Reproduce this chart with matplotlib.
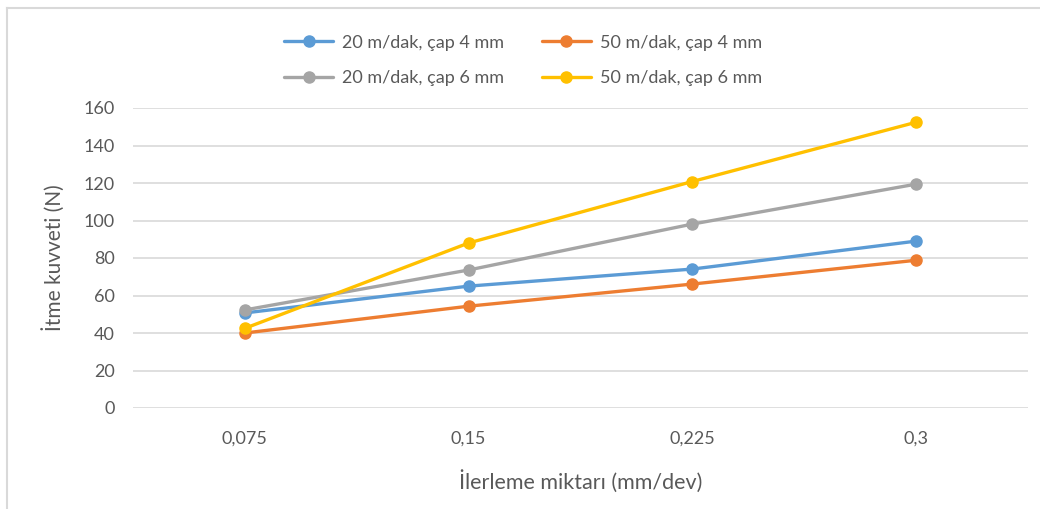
import matplotlib
matplotlib.use("Agg")
import matplotlib.pyplot as plt
from matplotlib.lines import Line2D

plt.rcParams['font.family'] = ['Lato', 'DejaVu Sans']

# feed rate categories (mm/dev) and thrust force values (N)
feeds = ["0,075", "0,15", "0,225", "0,3"]
v20_d4 = [50.7, 65.0, 74.1, 89.0]
v50_d4 = [40.0, 54.3, 66.1, 78.8]
v20_d6 = [52.3, 73.6, 98.1, 119.4]
v50_d6 = [42.5, 88.0, 120.8, 152.4]

labels = ["20 m/dak, çap 4 mm", "50 m/dak, çap 4 mm",
          "20 m/dak, çap 6 mm", "50 m/dak, çap 6 mm"]
colors = ["#5B9BD5", "#ED7D31", "#A5A5A5", "#FFC000"]
series = [v20_d4, v50_d4, v20_d6, v50_d6]

text_col = "#595959"
grid_col = "#d9d9d9"

fig = plt.figure(figsize=(10.4, 5.09), dpi=100)
ax = fig.add_axes([133/1040, 101/509, 895/1040, 300/509])

x = list(range(len(feeds)))
handles = []
for vals, col, lab in zip(series, colors, labels):
    h, = ax.plot(x, vals, color=col, linewidth=2.4, marker='o',
                 markersize=8, label=lab, solid_capstyle='round')
    handles.append(h)

ax.set_xlim(-0.5, len(feeds) - 0.5)
ax.set_ylim(0, 160)
ax.set_yticks(range(0, 161, 20))
ax.set_xticks(x)
ax.set_xticklabels(feeds)
ax.yaxis.grid(True, color=grid_col, linewidth=1.2)
ax.set_axisbelow(True)
for s in ax.spines.values():
    s.set_visible(False)
ax.tick_params(axis='both', length=0, labelsize=13, labelcolor=text_col)
ax.tick_params(axis='y', pad=13)
ax.tick_params(axis='x', pad=16)

ax.set_ylabel("İtme kuvveti (N)", fontsize=15, color=text_col, va='center')
ax.yaxis.set_label_coords(-80/895, 0.5)
ax.set_xlabel("İlerleme miktarı (mm/dev)", fontsize=15.5, color=text_col, va='center')
ax.xaxis.set_label_coords(0.5, -73/300)

# two-row legend on top: column 1 holds the 20 m/dak series
order = [0, 2, 1, 3]
fig.legend([handles[i] for i in order], [labels[i] for i in order],
           loc='center', bbox_to_anchor=(523/1040, 1 - 60.5/509), ncol=2,
           frameon=False, fontsize=13, labelcolor=text_col,
           handlelength=2.7, columnspacing=2.1, labelspacing=1.1,
           handletextpad=0.5)

# chart frame (top and left edges)
fig.add_artist(Line2D([6.5/1040, 6.5/1040], [0, 1 - 7.5/509],
                      transform=fig.transFigure, color=grid_col, linewidth=1.5))
fig.add_artist(Line2D([6.5/1040, 1], [1 - 7.5/509, 1 - 7.5/509],
                      transform=fig.transFigure, color=grid_col, linewidth=1.5))

fig.savefig("out.png", dpi=100, facecolor="white")
